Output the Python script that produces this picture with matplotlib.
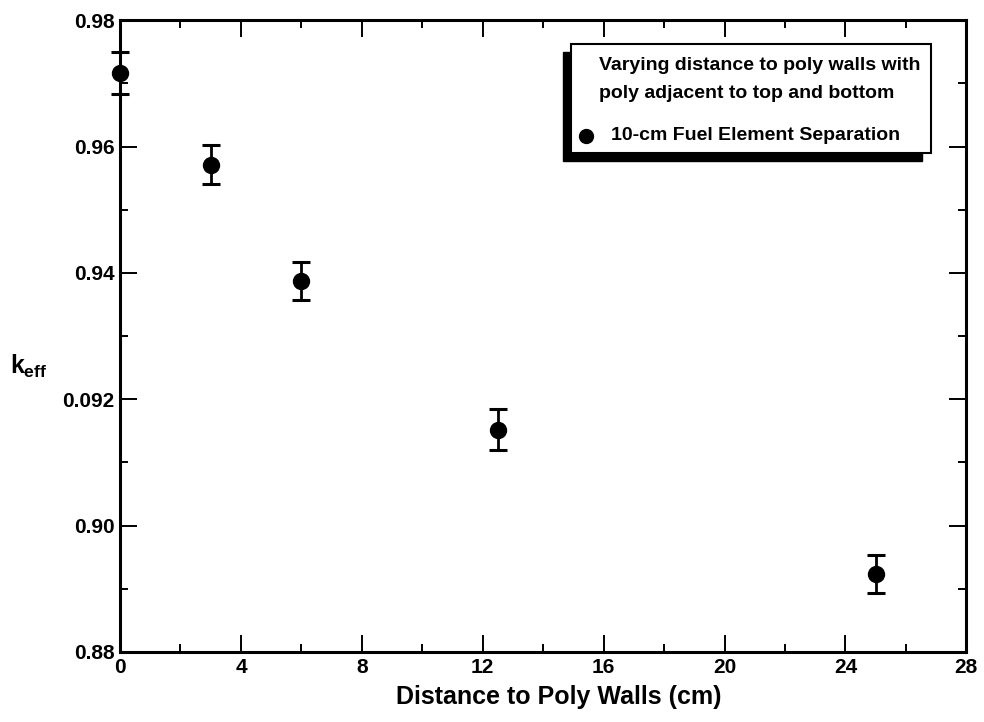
import matplotlib
matplotlib.use('Agg')
import matplotlib.pyplot as plt
from matplotlib.patches import Rectangle

plt.rcParams['font.family'] = ['Liberation Sans', 'DejaVu Sans']
plt.rcParams['font.weight'] = 'bold'
plt.rcParams['mathtext.fontset'] = 'custom'
plt.rcParams['mathtext.rm'] = 'Liberation Sans:bold'
plt.rcParams['mathtext.it'] = 'Liberation Sans:bold'

# distance to poly walls (cm), keff and its uncertainty
dist = [0, 3, 6, 12.5, 25]
keff = [0.9716, 0.9571, 0.9387, 0.9152, 0.8923]
err = [0.0033, 0.0031, 0.0030, 0.0032, 0.0030]

xticks = [0, 4, 8, 12, 16, 20, 24, 28]
yticks = [0.88, 0.90, 0.92, 0.94, 0.96, 0.98]
ylabels = ['0.88', '0.90', '0.092', '0.94', '0.96', '0.98']  # as printed

fig = plt.figure(figsize=(9.84, 7.22), dpi=100)
ax = fig.add_axes([0.122, 0.097, 0.860, 0.875])

ax.errorbar(dist, keff, yerr=err, fmt='o', color='black', ms=11.5,
            capsize=6.5, capthick=2.2, elinewidth=2, clip_on=False, zorder=3)

ax.set_xlim(0, 28)
ax.set_ylim(0.88, 0.98)
ax.set_xticks(xticks)
ax.set_xticks(range(0, 29, 2), minor=True)
ax.set_yticks(yticks, ylabels)
ax.set_yticks([0.88 + 0.01 * i for i in range(11)], minor=True)

ax.tick_params(which='both', direction='in', top=True, right=True,
               width=1.4, labelsize=15, pad=4)
ax.tick_params(which='major', length=12)
ax.tick_params(which='minor', length=6)
for s in ax.spines.values():
    s.set_linewidth(2.2)

ax.set_xlabel('Distance to Poly Walls (cm)', fontsize=18, fontweight='bold')
ax.xaxis.set_label_coords(0.519, -0.052)
ax.set_ylabel('$k_{eff}$', fontsize=18, rotation=0)
ax.yaxis.set_label_coords(-0.108, 0.43)

# legend box with a drop shadow to the lower left
ax.add_patch(Rectangle((0.523, 0.777), 0.425, 0.172, transform=ax.transAxes,
                       facecolor='black', edgecolor='black', clip_on=False, zorder=4))
ax.add_patch(Rectangle((0.533, 0.790), 0.425, 0.172, transform=ax.transAxes,
                       facecolor='white', edgecolor='black', lw=1.5, clip_on=False, zorder=5))
ax.text(0.566, 0.942, 'Varying distance to poly walls with\npoly adjacent to top and bottom',
        transform=ax.transAxes, fontsize=14, fontweight='bold', va='top',
        linespacing=1.85, zorder=6)
ax.plot([0.551], [0.817], 'o', color='black', ms=10, transform=ax.transAxes,
        clip_on=False, zorder=6)
ax.text(0.580, 0.818, '10-cm Fuel Element Separation', transform=ax.transAxes,
        fontsize=14, fontweight='bold', va='center', zorder=6)

fig.savefig('out.png', dpi=100)
